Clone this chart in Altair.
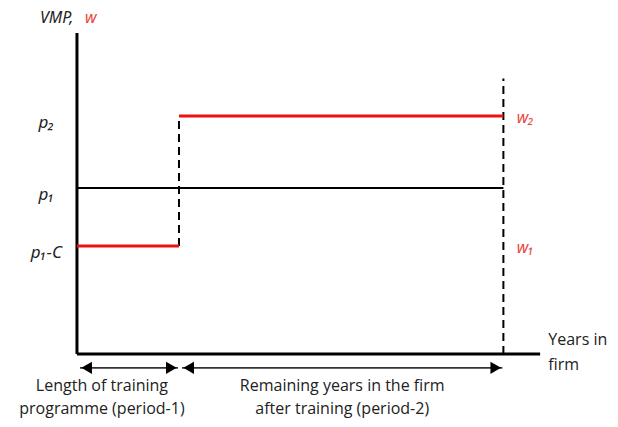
import altair as alt
import pandas as pd

# ---- conceptual values of the diagram ----
t_start = 0.0        # start of employment
t_train = 1.0        # end of training (period-1)
t_exit = 4.18        # leaving the firm
x_axis_end = 4.54
y_axis_top = 9.67
dash_top = 8.3

level_labels = ["p\u2082", "p\u2081", "p\u2081-C"]
level_values = [7.17, 5.0, 3.25]

wage_labels = ["w\u2082", "w\u2081"]
wage_values = [7.17, 3.25]

# red wage path segments
wage_x = [t_start, t_train]
wage_x2 = [t_train, t_exit]
wage_y = [3.25, 7.17]

# VMP (p1) constant line
vmp_x = [t_start]
vmp_x2 = [t_exit]
vmp_y = [5.0]

# dashed verticals
dash_x = [t_train, t_exit]
dash_y = [3.25, 0.0]
dash_y2 = [7.17, dash_top]

# period arrows
arrow_from = [0.03, 1.03]
arrow_to = [0.99, 4.17]
arrow_level = -0.42
period_text_1 = ["Length of training", "Remaining years in the firm"]
period_text_2 = ["programme (period-1)", "after training (period-2)"]
period_centre = [0.245, 2.6]

# ---- layout ----
W, H = 602, 411
XMIN, XMAX = -0.676, 5.225
YMIN, YMAX = -1.96, 10.42

xs = alt.Scale(domain=[XMIN, XMAX], nice=False, zero=False)
ys = alt.Scale(domain=[YMIN, YMAX], nice=False, zero=False)
RED = "#ee1111"
TRED = "#e8453c"
FONT = "Open Sans"


def X(f="x"):
    return alt.X(f"{f}:Q", scale=xs, axis=None)


def Y(f="y"):
    return alt.Y(f"{f}:Q", scale=ys, axis=None)


axes_df = pd.DataFrame({"x": [0, 0], "x2": [0, x_axis_end], "y": [0, 0], "y2": [y_axis_top, 0]})
axes = alt.Chart(axes_df).mark_rule(color="black", strokeWidth=3).encode(
    x=X(), x2="x2:Q", y=Y(), y2="y2:Q")

vmp_df = pd.DataFrame({"x": vmp_x, "x2": vmp_x2, "y": vmp_y})
vmp = alt.Chart(vmp_df).mark_rule(color="black", strokeWidth=2).encode(
    x=X(), x2="x2:Q", y=Y())

dash_df = pd.DataFrame({"x": dash_x, "y": dash_y, "y2": dash_y2})
dashes = alt.Chart(dash_df).mark_rule(color="black", strokeWidth=2, strokeDash=[8, 5]).encode(
    x=X(), y=Y(), y2="y2:Q")

wage_df = pd.DataFrame({"x": wage_x, "x2": wage_x2, "y": wage_y})
wage = alt.Chart(wage_df).mark_rule(color=RED, strokeWidth=3).encode(
    x=X(), x2="x2:Q", y=Y())

arr_df = pd.DataFrame({"x": arrow_from, "x2": arrow_to, "y": [arrow_level] * 2})
arr_line = alt.Chart(arr_df).mark_rule(color="#333", strokeWidth=1.8).encode(
    x=X(), x2="x2:Q", y=Y())
head_l = alt.Chart(arr_df).transform_calculate(hx="datum.x + 0.065").mark_point(
    shape="triangle-left", filled=True, color="black", size=150, opacity=1).encode(
    x=X("hx"), y=Y())
head_r = alt.Chart(arr_df).transform_calculate(hx="datum.x2 - 0.065").mark_point(
    shape="triangle-right", filled=True, color="black", size=150, opacity=1).encode(
    x=X("hx"), y=Y())

lvl_df = pd.DataFrame({"label": level_labels, "y": [v - 0.2 for v in level_values], "x": [-0.3] * 3})
lvl_text = alt.Chart(lvl_df).mark_text(font="Noto Sans", fontStyle="italic", fontSize=17,
                                       color="#222", align="center", baseline="middle").encode(
    x=X(), y=Y(), text="label:N")

w_df = pd.DataFrame({"label": wage_labels, "y": [v - 0.05 for v in wage_values], "x": [4.31] * 2})
w_text = alt.Chart(w_df).mark_text(font="Noto Sans", fontStyle="italic", fontSize=16,
                                   color=TRED, align="left", baseline="middle").encode(
    x=X(), y=Y(), text="label:N")

title_df = pd.DataFrame({"label": ["VMP,", "w"], "x": [-0.363, 0.08], "y": [10.12, 10.12],
                         "c": ["#222", TRED]})
title_text = alt.Chart(title_df).mark_text(font="Noto Sans", fontStyle="italic", fontSize=16,
                                           align="left", baseline="middle").encode(
    x=X(), y=Y(), text="label:N", color=alt.Color("c:N", scale=None))

xl_df = pd.DataFrame({"label": ["Years in", "firm"], "x": [4.62, 4.62], "y": [0.42, -0.33]})
xl_text = alt.Chart(xl_df).mark_text(font=FONT, fontSize=16, color="#222",
                                     align="left", baseline="middle").encode(
    x=X(), y=Y(), text="label:N")

per_df = pd.DataFrame({"label": period_text_1 + period_text_2,
                       "x": period_centre * 2,
                       "y": [-0.96] * 2 + [-1.66] * 2})
per_text = alt.Chart(per_df).mark_text(font=FONT, fontSize=16, color="#222",
                                       align="center", baseline="middle").encode(
    x=X(), y=Y(), text="label:N")

chart = alt.layer(axes, vmp, dashes, wage, arr_line, head_l, head_r,
                  lvl_text, w_text, title_text, xl_text, per_text).properties(
    width=W, height=H, padding=0,
    autosize=alt.AutoSizeParams(type="none"),
    background="white",
).configure_view(stroke=None)

chart.save("out.html", embed_options={"renderer": "svg", "actions": False})
